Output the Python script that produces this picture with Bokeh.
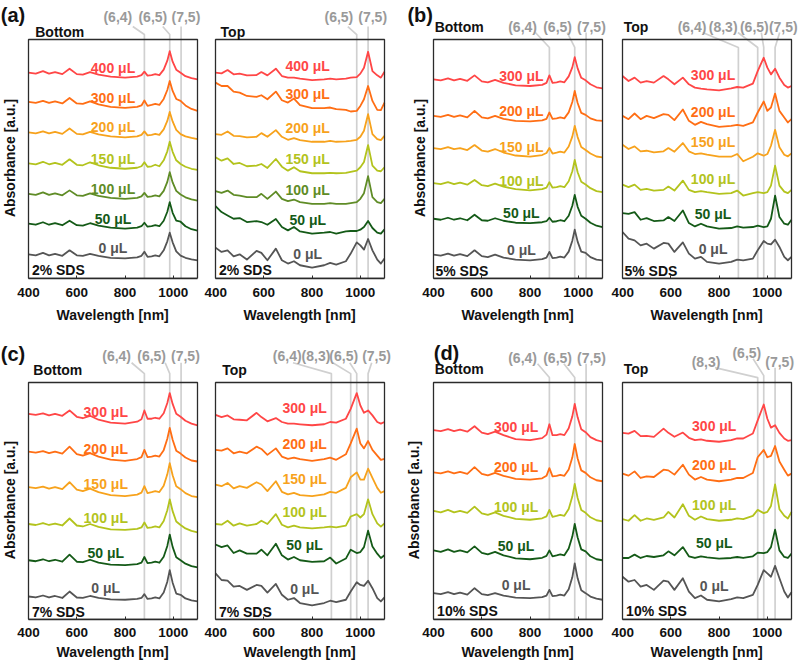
import numpy as np
from bokeh.plotting import figure
from bokeh.layouts import row, column
from bokeh.models import Range1d, FixedTicker, Label, BoxAnnotation, Title
from bokeh.embed import file_html
from bokeh.resources import INLINE

# ---------------- data ----------------
X_TICKS = [400, 600, 800, 1000]
CHIRALITY = {"(6,4)": 880, "(8,3)": 960, "(6,5)": 985, "(7,5)": 1032}

WL_BOTTOM = [400, 430, 460, 485, 510, 540, 570, 600, 625, 655,
             690, 740, 800, 850, 868, 880, 893, 910, 925, 942,
             960, 975, 985, 997, 1012, 1030, 1050, 1075, 1100]
WL_TOP = [400, 425, 450, 475, 500, 530, 570, 590, 615, 650,
          675, 700, 725, 750, 800, 850, 875, 900, 940, 960,
          985, 1000, 1015, 1032, 1050, 1070, 1085, 1100]

# (a) 2% SDS
A_CONC = ["0", "50", "100", "150", "200", "300", "400"]
A_BOTTOM_LEVEL = [24.3, 55, 85, 115.7, 146.7, 177.3, 206.7]
A_BOTTOM_SHAPE = [
    [0, -1, 1.5, -1, 0.5, -1.5, 4, -1, -1.5, 0.5, -1.5, -3.5, -4, -3, -1.5, 2.5, -2.5, -2, -1, -2, 4, 13, 21.7, 12, 3, -1.3, -3.5, -5, -6],
    [0, -1, 1.5, -1, 0.5, -1.5, 3, -1.5, -2, 0.5, -2, -4, -5, -4, -2.5, 1, -3, -2.5, -1.5, -2.5, 3, 12, 21.7, 11, 3, 2, -2.5, -5.5, -7],
    [0, -1, 1.5, -1, 0.5, -1.5, 3.5, -1.5, -2, 0.5, -2, -4, -5, -4, -2.5, 1, -3, -2.5, -1.5, -2.5, 3, 12, 21.7, 11.5, 3, -0.7, -3.5, -5.5, -6.7],
    [0, -1, 1.5, -1, 0.5, -1.5, 4, -1.5, -2, 1, -2, -4.5, -5.5, -4.5, -3, 1, -3.5, -3, -1.5, -3, 3, 12, 21.6, 11.5, 3, -0.7, -3.5, -5.5, -6.7],
    [0, -1, 1, -1, 0.5, -1.5, 4, -1.5, -2, 0.5, -2, -4, -5, -4, -2.5, 1, -3, -2.5, -1.5, -2.5, 3, 11.5, 20.6, 11, 2.5, -1.7, -4, -5.5, -6.7],
    [0, -1, 1, -1, 0.5, -1.5, 4, -1.5, -2, 0.5, -2.5, -5, -6, -5, -3.5, 1.5, -4, -3, -2, -3, 3, 12, 21, 11, 3, 1, -3.5, -7, -9],
    [0, -1, 1.5, -1, 0.5, -1.5, 4, -1.5, -2, 0.5, -2, -4, -5, -4, -2.5, 1, -3, -2.5, -1.5, -2.5, 3, 12, 21.6, 11, 3, 0, -3.5, -5.5, -6.7],
]
A_TOP = [
    [31, 26.7, 28.3, 22.3, 24.3, 19, 27.7, 25.7, 18.3, 30, 18.3, 15, 17.3, 13.3, 11, 13.3, 15.7, 14, 17.3, 25, 36.3, 33.3, 29, 39.7, 28.3, 19, 15, 20],
    [72.7, 66.7, 63.3, 60, 60.7, 56.7, 57.7, 56.7, 54, 59.7, 51.7, 48.3, 51.7, 47.3, 45, 46, 46.7, 45, 47.3, 47.7, 47.7, 49, 51.7, 57.7, 50.7, 46, 45, 49.3],
    [87.7, 86, 88.3, 84, 83.3, 81.7, 81.7, 85, 80, 87.3, 80, 77.7, 79.3, 76.7, 75, 75, 75.7, 75, 75, 75.7, 76.7, 80, 85.7, 102.7, 81.7, 76.7, 75.7, 80],
    [121.7, 118.3, 120.7, 115, 116, 112.7, 113.3, 115, 111, 120, 112.3, 108.3, 111.7, 107.7, 105.7, 105.7, 106, 105.7, 106, 107, 108.3, 111.7, 117, 134, 113.3, 108.3, 107.7, 111.7],
    [145, 144.3, 147.7, 143.3, 143, 141.7, 142.3, 146, 142.3, 149, 142.3, 139.3, 141, 139, 137.3, 137.3, 138.3, 137.3, 137.7, 138.3, 139.3, 142.3, 148.3, 165, 145, 140, 139, 143.3],
    [196.7, 193.3, 193.3, 187.7, 186.7, 183.3, 182.3, 184, 180, 187.7, 179, 176.7, 180.7, 174, 171, 171, 171.7, 170, 169.3, 167.7, 168.3, 173.3, 180, 193.3, 178.3, 169.3, 169, 176.7],
    [206.7, 206, 209.3, 205, 205.7, 204, 204.3, 207.3, 204, 210.7, 203.3, 201.7, 201.7, 200.7, 199.3, 200, 200.7, 200, 200.7, 201.7, 202.3, 205.7, 211.7, 227.7, 208.3, 204, 201.7, 207.7],
]

# (b) 5% SDS
B_CONC = ["0", "50", "100", "150", "200", "300"]
B_BOTTOM_LEVEL = [24, 60, 95.7, 131, 163.3, 200]
B_BOTTOM_SHAPE = [
    [0, -1, 1, -1, 0.5, -1.5, 4.3, -1.5, -2.5, 0, -3, -5, -5.7, -4.5, -3, 2.7, -3.5, -3, -2, -3, 3, 14, 25, 13, 3, 1.7, -2.5, -5, -5.7],
    [0, -1, 1, -1, 0.5, -1.5, 4, -1.5, -2, 0.5, -2, -4, -4.3, -3.5, -2.5, 1, -3, -2.5, -1.5, -2.5, 3, 13, 24, 12, 3, 0, -4, -7, -8.3],
    [0, -1, 1, -1, 0.5, -1.5, 3.3, -2, -3, -0.5, -3.5, -6, -7.3, -6, -4.5, 1, -4.5, -4, -3, -4, 2, 12, 23.3, 11, 1.5, -1.4, -5, -8, -9],
    [0, -1, 1, -1, 0, -2, 3, -2.5, -3.5, -1, -4.5, -7.5, -8.7, -7, -5, 0, -5.5, -4.5, -3.5, -4.5, 1.5, 11.5, 22.3, 11, 1, -2, -5.5, -8.5, -9.3],
    [0, -1, 1, -1, 0.5, -1.5, 5, -1.5, -2.5, 0, -3, -5, -5.6, -4.5, -3, 3.4, -3, -2.5, -1.5, -2.5, 3.5, 14, 25, 13, 3, 1, -2.5, -4.5, -5],
    [0, -1, 1, -1, 0.5, -1.5, 4, -2, -3, -0.5, -3.5, -6, -6.7, -5.5, -3.5, 4, -3.5, -3, -2, -3, 3, 12, 22.3, 11, 1.5, -1, -5, -8, -9],
]
B_TOP = [
    [46.7, 40, 38.3, 33.3, 35, 30, 35.7, 35, 26.7, 36.3, 25, 20, 21.7, 16.7, 15, 16.7, 19, 18.3, 20, 28.3, 37.7, 35, 34.3, 39, 31.7, 21.7, 18.3, 21.7],
    [65.7, 65, 66.7, 59, 60.7, 57.7, 58.3, 61.7, 57.7, 68.3, 55.7, 52.3, 55, 52.3, 50, 50.7, 52.3, 51, 51.7, 53, 51.7, 52.3, 60, 83.3, 61.7, 55, 54, 59],
    [94.3, 91.7, 94.3, 89, 90, 88.3, 89, 92.3, 88.3, 98.3, 89, 86.7, 87.7, 86.7, 85, 85.7, 88.3, 83.3, 85.7, 86.7, 85.7, 86.7, 93.3, 113.3, 93.3, 87.3, 85.7, 89],
    [134.3, 130, 132.7, 127.7, 128.3, 126.7, 127.7, 131, 127.3, 136, 127.7, 125, 125.7, 124.3, 122.3, 122.3, 125, 117.7, 122.3, 125.7, 123.3, 125, 133.3, 149.3, 131.7, 124.3, 122.7, 125.7],
    [163.3, 160, 165.7, 160, 163.3, 161, 165, 164.3, 159, 169.7, 158.3, 154.3, 157.3, 155, 152.3, 153.3, 154.3, 153.3, 156.7, 166.7, 177.7, 168.3, 171.7, 185.7, 168.3, 161.7, 156.7, 160],
    [203.3, 198.3, 201.7, 196.7, 198.3, 196.7, 203.3, 200, 195, 201.7, 195, 191.7, 190.7, 190, 189, 191, 192.3, 191.7, 195.7, 208.3, 221.7, 211.7, 205, 210.7, 201.7, 194.3, 191.7, 193.3],
]

# (c) 7% SDS
C_CONC = ["0", "50", "100", "150", "200", "300"]
C_BOTTOM_LEVEL = [23.3, 60, 96.7, 134, 170, 208.3]
C_BOTTOM_SHAPE = [
    [0, -1, 1, -1, 0.5, -1.5, 5, -1, -1.5, 0.5, -1.5, -3, -3.3, -2.5, -1.5, 2.4, -2.5, -2, -1, -2, 4, 15, 26.7, 14, 3, 1.7, -2, -4, -5],
    [0, -1, 1, -1, 0.5, -1.5, 5.7, -1.5, -2, 0.5, -2.5, -4.5, -5, -4, -2.5, 3.3, -3, -2.5, -1.5, -2.5, 3.5, 14.5, 26, 13.5, 3, 0, -3.5, -6, -7.3],
    [0, -1, 1, -1, 0.5, -1.5, 5.6, -1.5, -2.5, 0, -3, -5.5, -6, -5, -3.5, 1.6, -4, -3.5, -2.5, -3.5, 3, 14, 25, 13, 2.5, -1, -4.5, -7, -8.4],
    [0, -1, 0.5, -1.5, 0, -2, 5, -2.5, -4, -1.5, -5, -8, -9, -7.5, -5.5, 1, -6, -5, -4, -5, 1.5, 13, 24.3, 12, 1, -2, -6, -9, -10],
    [0, -1, 0.5, -1.5, 0, -2, 5, -2.5, -4, -1.5, -5, -8, -9.3, -7.5, -5.5, 1.7, -5.5, -5, -4, -5, 1.5, 13, 24, 12, 1, -2, -6, -9, -10],
    [0, -1, 0.5, -1.5, 0, -2, 3.4, -3, -4.5, -2, -6, -9, -10, -8, -5.5, 3.4, -5, -5, -4, -5, 0.5, 11, 21, 10, 0, -3, -7, -10, -11.6],
]
C_TOP = [
    [46.7, 40, 39.3, 33.3, 34, 30, 35, 34, 27.3, 36, 25, 20, 21.7, 16.7, 14.3, 16.7, 19, 17.7, 20, 28.3, 37.7, 35, 34, 39.3, 31.7, 21.7, 18.3, 22.3],
    [76, 73.3, 75, 67.3, 70, 66.7, 66.7, 70.7, 65, 76.7, 65, 60.7, 63.3, 60, 58.3, 59, 62.7, 56.7, 61.7, 70.7, 67.3, 68.3, 73.3, 90, 74, 66.7, 62.3, 65],
    [96.7, 96, 100, 95, 97.3, 95, 96.7, 100, 96.7, 106.7, 96, 93.3, 95, 93.3, 92.3, 93.3, 94, 93.3, 95, 104.3, 106.7, 103.3, 106.7, 121.7, 106.7, 97.3, 94, 97.3],
    [136.7, 135, 138.3, 132.7, 135, 133.3, 139, 136.7, 130, 140, 129.3, 126.7, 128.3, 126, 125, 126.7, 129.3, 128.3, 133.3, 144, 149, 141.7, 141.7, 152.7, 143.3, 133.3, 128.3, 130],
    [171.7, 171, 173.3, 168.3, 170, 168.3, 175, 172.7, 166.7, 173.3, 165, 162.7, 164, 162.3, 160.7, 162.3, 164, 161.7, 167.3, 178.3, 193.3, 178.3, 173.3, 180.7, 171.7, 166, 161.7, 162.7],
    [207.3, 205, 206.7, 202.7, 202.3, 201.7, 209.3, 205, 200.7, 204, 200, 198.3, 198.3, 197.7, 196.7, 197.7, 200, 199.3, 203.3, 213.3, 229.3, 216.7, 209.3, 211.7, 206.7, 200, 198.3, 200],
]

# (d) 10% SDS
D_CONC = ["0", "50", "100", "200", "300"]
D_BOTTOM_LEVEL = [26.7, 70, 110, 149, 191.7]
D_BOTTOM_SHAPE = [
    [0, -1, 1, -1, 0.5, -1.5, 5, -1, -2, 0, -2.5, -4.5, -5, -4, -2.5, 3.3, -3, -2.5, -1.5, -2.5, 4, 16, 30, 15, 3, 0, -3.5, -5.5, -6.7],
    [0, -1.5, 1, -1.5, 0, -2, 4, -2.5, -4, -1.5, -5, -8, -9, -7.5, -5.5, 0, -6, -5, -4, -5, 2, 14, 26.7, 13, 1, -1, -6, -9, -10],
    [0, -1.5, 1, -1.5, 0, -2, 4.3, -2.5, -4, -1.5, -5, -8, -9, -7.5, -5.5, 1, -6, -5, -4, -5, 2, 14.5, 27.3, 13, 1, -2, -6.5, -9.5, -10.7],
    [0, -1, 1, -1, 0.5, -1.5, 5.3, -1.5, -3, -0.5, -3.5, -6.5, -7.3, -6, -3.5, 4.3, -4, -3.5, -2.5, -3.5, 3, 15, 28.7, 14, 2, -0.5, -5, -8, -9],
    [0, -1, 1, -1, 0.5, -1.5, 4, -2.5, -4, -1.5, -5, -9, -10, -8, -4.5, 6, -5, -5, -4, -5, 2, 14, 26.6, 13, 1, -2, -7, -10, -11.7],
]
D_TOP = [
    [43.3, 38.3, 40, 33.3, 35, 30, 39.3, 38.3, 30, 41.7, 28.3, 21.7, 24.3, 20, 18.3, 20.7, 22.3, 21.7, 25, 35, 50, 46.7, 43.3, 54.3, 41.7, 28.3, 22.3, 27.7],
    [62.3, 62.3, 65.7, 62.3, 64.3, 63.3, 65, 69, 65, 73.3, 64, 62.3, 64, 63, 61.7, 62.3, 63.3, 62.3, 64, 67.7, 67.3, 68.3, 73.3, 91, 70, 63.3, 62.3, 66.7],
    [101.7, 100, 105.7, 100, 102.3, 101, 103.3, 109, 103.3, 116.7, 105, 101, 104.3, 101.7, 100, 101, 102.3, 101.7, 105, 111, 107.7, 109, 115, 136.7, 111.7, 105, 102.3, 109],
    [147.7, 145.7, 150, 143.3, 145, 144.3, 151.7, 151, 146.7, 156.7, 146.7, 141.7, 144.3, 141.7, 140, 141.7, 143.3, 143.3, 148.3, 164.3, 171.7, 164.3, 165.7, 175.7, 160, 151.7, 145.7, 147.7],
    [189, 188.3, 191, 185.7, 186, 185, 193.3, 189, 185, 189.3, 184, 181.7, 182.3, 181, 180, 181.7, 183.3, 183.3, 188.3, 201.7, 217.7, 203.3, 194.3, 196.7, 189, 183.3, 181, 181.7],
]

# ---------------- style / layout ----------------
FONT = "Liberation Sans"
BOX = "#2b2b2b"
INK = "#111111"
ANN_LINE = "#d0d0d0"
ANN_TEXT = "#9a9a9a"
GREY, DKGREEN, OLIVE, YGREEN = "#555555", "#145a17", "#5f8c26", "#b3c31d"
ORANGE, ORED, RED = "#f7a21c", "#ff6e14", "#ff4646"
A_COLORS = [GREY, DKGREEN, OLIVE, YGREEN, ORANGE, ORED, RED]
BC_COLORS = [GREY, DKGREEN, YGREEN, ORANGE, ORED, RED]
D_COLORS = [GREY, DKGREEN, YGREEN, ORED, RED]

BOX_TOP = 240.0
BOX_W = 169.0
NM_PER_PX = 700.0 / BOX_W
COLS = [dict(w=204, l=28, r=7), dict(w=196, l=11, r=16), dict(w=211, l=33, r=9), dict(w=187, l=11, r=7)]
ROWS = [dict(h=330, b=52, box_top_px=39, tick_so=9, title_so=10),
        dict(h=332, b=43, box_top_px=52, tick_so=8, title_so=5)]


def make_fig(col, rw):
    c, r = COLS[col], ROWS[rw]
    frame_h = r["h"] - r["b"]
    ytop = BOX_TOP * frame_h / (frame_h - r["box_top_px"])
    x0 = 400 - c["l"] * NM_PER_PX
    x1 = 1100 + c["r"] * NM_PER_PX
    p = figure(width=c["w"], height=r["h"], x_range=Range1d(x0, x1), y_range=Range1d(0, ytop),
               output_backend="svg", toolbar_location=None, y_axis_location=None,
               min_border_left=0, min_border_right=0, min_border_top=0, min_border_bottom=r["b"],
               outline_line_color=None, background_fill_color="white", border_fill_color="white")
    p.grid.visible = False
    xa = p.xaxis[0]
    xa.ticker = FixedTicker(ticks=X_TICKS)
    xa.bounds = (400, 1100)
    xa.major_label_text_font = FONT
    xa.major_label_text_font_style = "bold"
    xa.major_label_text_font_size = "13.5px"
    xa.major_label_text_color = INK
    xa.major_label_standoff = r["tick_so"]
    xa.major_tick_in = 3
    xa.major_tick_out = 0
    xa.major_tick_line_color = BOX
    xa.minor_tick_line_color = None
    xa.axis_line_color = BOX
    xa.axis_line_width = 1.3
    p.add_layout(Title(text="Wavelength [nm]", align="left", offset=c["l"] + 28, standoff=r["title_so"],
                       text_font=FONT, text_font_style="bold", text_font_size="14px", text_color=INK), "below")
    p.add_layout(BoxAnnotation(left=400, right=1100, bottom=0, top=BOX_TOP, fill_color=None, fill_alpha=0,
                               line_color=BOX, line_alpha=1.0, line_width=1.3))
    return p


def txt(p, x, y, text, color=INK, size="14px", align="left", angle=0.0):
    p.add_layout(Label(x=x, y=y, text=text, text_font=FONT, text_font_style="bold", text_font_size=size,
                       text_color=color, text_align=align, text_baseline="middle", angle=angle))


def subplot(col, rw, wl, curves, concs, colors, lab_x, lab_dy, title, title_xy, sds, sds_xy, anns,
            letter=None, letter_xy=None, ylab_x=None):
    p = make_fig(col, rw)
    for name, tx, ty, px, py in anns:
        xv = CHIRALITY[name]
        p.line(px + [xv, xv], py + [0], line_color=ANN_LINE, line_width=1.7, level="underlay")
        txt(p, tx, ty, name, color=ANN_TEXT, align="center")
    for y, conc, colr in zip(curves, concs, colors):
        p.line(wl, y, line_color=colr, line_width=1.8, line_join="round")
        txt(p, lab_x, float(np.interp(800, wl, y)) + lab_dy, f"{conc} μL", color=colr, align="center")
    txt(p, title_xy[0], title_xy[1], title)
    txt(p, sds_xy[0], sds_xy[1], sds)
    if letter:
        txt(p, letter_xy[0], letter_xy[1], letter, size="20px")
    if ylab_x is not None:
        txt(p, ylab_x, 121, "Absorbance [a.u.]", size="14px", align="center", angle=np.pi / 2)
    return p


def stack(levels, shapes):
    return [np.array(s) + lv for lv, s in zip(levels, shapes)]


a_b = subplot(0, 0, WL_BOTTOM, stack(A_BOTTOM_LEVEL, A_BOTTOM_SHAPE), A_CONC, A_COLORS, 750, 10,
              "Bottom", (428, 248), "2% SDS", (414, 9),
              [("(6,4)", 770, 263, [832, 880], [253, 245]), ("(6,5)", 915, 263, [956, 985], [253, 245]),
               ("(7,5)", 1052, 263, [], [253])],
              "(a)", (285, 265), ylab_x=323)
a_t = subplot(1, 0, WL_TOP, [np.array(c) for c in A_TOP], A_CONC, A_COLORS, 782, 14,
              "Top", (421, 248), "2% SDS", (414, 9),
              [("(6,5)", 911, 263, [948, 985], [253, 245]), ("(7,5)", 1051, 263, [], [253])])
b_b = subplot(2, 0, WL_BOTTOM, stack(B_BOTTOM_LEVEL, B_BOTTOM_SHAPE), B_CONC, BC_COLORS, 764, 10,
              "Bottom", (405, 253), "5% SDS", (408, 8),
              [("(6,4)", 769, 253, [822, 880], [247, 232]), ("(6,5)", 914, 253, [954, 985], [247, 232]),
               ("(7,5)", 1054, 253, [], [247])],
              "(b)", (292, 265), ylab_x=344)
b_t = subplot(3, 0, WL_TOP, [np.array(c) for c in B_TOP], B_CONC, BC_COLORS, 775, 15,
              "Top", (405, 253), "5% SDS", (408, 8),
              [("(6,4)", 688, 253, [732, 880], [247, 232]), ("(8,3)", 817, 253, [878, 960], [247, 232]),
               ("(6,5)", 946, 253, [975, 985], [247, 232]), ("(7,5)", 1066, 253, [1051, 1032], [247, 232])])
c_b = subplot(0, 1, WL_BOTTOM, stack(C_BOTTOM_LEVEL, C_BOTTOM_SHAPE), C_CONC, BC_COLORS, 720, 12,
              "Bottom", (420, 253), "7% SDS", (414, 8),
              [("(6,4)", 765, 267, [827, 880], [260, 249]), ("(6,5)", 910, 267, [966, 985], [260, 249]),
               ("(7,5)", 1050, 267, [], [260])],
              "(c)", (285, 268.5), ylab_x=323)
c_t = subplot(1, 1, WL_TOP, [np.array(c) for c in C_TOP], C_CONC, BC_COLORS, 769, 17,
              "Top", (428, 253), "7% SDS", (414, 8),
              [("(6,4)", 697, 267, [721, 880], [260, 249]), ("(8,3)", 816, 267, [886, 960], [260, 249]),
               ("(6,5)", 931, 267, [956, 985], [260, 249]), ("(7,5)", 1067, 267, [1047, 1032], [260, 249])])
d_b = subplot(2, 1, WL_BOTTOM, stack(D_BOTTOM_LEVEL, D_BOTTOM_SHAPE), D_CONC, D_COLORS, 742, 13,
              "Bottom", (405, 254), "10% SDS", (415, 9),
              [("(6,4)", 769, 265, [831, 880], [259, 245]), ("(6,5)", 914, 265, [940, 985], [259, 245]),
               ("(7,5)", 1054, 265, [], [259])],
              "(d)", (401, 269.5), ylab_x=321)
d_t = subplot(3, 1, WL_TOP, [np.array(c) for c in D_TOP], D_CONC, D_COLORS, 780, 16,
              "Top", (405, 254), "10% SDS", (415, 9),
              [("(8,3)", 746, 261, [783, 960], [255, 245]), ("(6,5)", 915, 270, [941, 985], [264, 247]),
               ("(7,5)", 1051, 261, [], [255])])

layout = column(row(a_b, a_t, b_b, b_t), row(c_b, c_t, d_b, d_t))
open("out.html", "w").write(file_html(layout, INLINE))
